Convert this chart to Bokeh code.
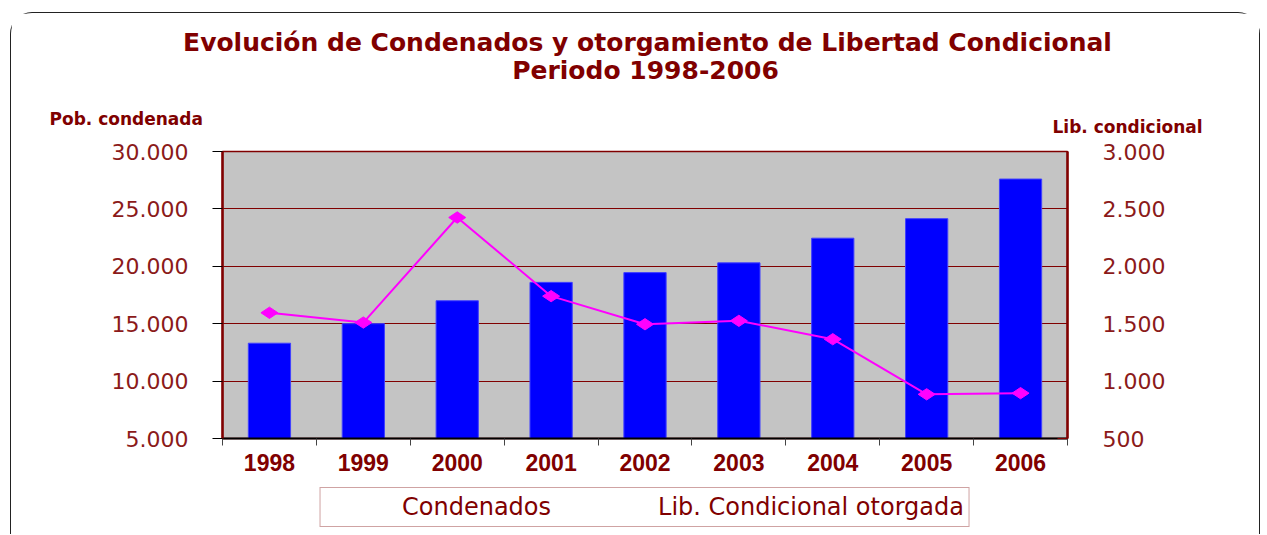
import math
from bokeh.plotting import figure
from bokeh.layouts import column
from bokeh.models import (ColumnDataSource, Range1d, LinearAxis, FixedTicker, Label,
                          Legend, LegendItem)
from bokeh.embed import file_html
from bokeh.resources import INLINE

years = ["1998", "1999", "2000", "2001", "2002", "2003", "2004", "2005", "2006"]
condenados = [13300, 15000, 17000, 18600, 19450, 20300, 22450, 24150, 27600]
lib_condicional = [1595, 1510, 2425, 1740, 1495, 1525, 1365, 885, 895]

left_ticks = [5000, 10000, 15000, 20000, 25000, 30000]
left_tick_labels = ["5.000", "10.000", "15.000", "20.000", "25.000", "30.000"]
right_ticks = [500, 1000, 1500, 2000, 2500, 3000]
right_tick_labels = ["500", "1.000", "1.500", "2.000", "2.500", "3.000"]

title_1 = "Evolución de Condenados y otorgamiento de Libertad Condicional"
title_2 = "Periodo 1998-2006"
left_title = "Pob. condenada"
right_title = "Lib. condicional"
series_names = ["Condenados", "Lib. Condicional otorgada"]

DARK = "#800000"
TICK = "#8b1a1a"
FONT = "DejaVu Sans"
BAR_FILL = "#0000ff"
BAR_LINE = "#4040ff"
MAG = "#ff00ff"

n = len(years)
xpos = [i + 0.5 for i in range(n)]
src = ColumnDataSource(dict(x=xpos, year=years, cond=condenados, lib=lib_condicional))

p = figure(frame_width=845, frame_height=287, x_range=Range1d(0, n),
           y_range=Range1d(5000, 30000),
           output_backend="svg", toolbar_location=None, x_axis_location=None,
           min_border_left=211, min_border_right=192, min_border_top=138,
           min_border_bottom=42)
p.extra_y_ranges = {"lib": Range1d(500, 3000)}

p.background_fill_color = "#c4c4c4"
p.border_fill_color = "white"
p.outline_line_color = DARK
p.outline_line_width = 1.5
p.xgrid.visible = False

p.ygrid.grid_line_color = DARK
p.ygrid.grid_line_width = 1
p.ygrid.ticker = FixedTicker(ticks=left_ticks)

# left axis
ya = p.yaxis[0]
ya.ticker = FixedTicker(ticks=left_ticks)
ya.major_label_overrides = {t: l for t, l in zip(left_ticks, left_tick_labels)}
ya.axis_line_color = DARK
ya.axis_line_width = 2.5
ya.major_tick_line_color = "black"
ya.major_tick_out = 10
ya.major_tick_in = 0
ya.minor_tick_line_color = None
ya.major_label_standoff = 24
ya.major_label_text_font = FONT
ya.major_label_text_font_size = "22px"
ya.major_label_text_color = TICK

# right axis
ra = LinearAxis(y_range_name="lib", ticker=FixedTicker(ticks=right_ticks))
ra.major_label_overrides = {t: l for t, l in zip(right_ticks, right_tick_labels)}
ra.axis_line_color = DARK
ra.axis_line_width = 2.5
ra.major_tick_line_color = DARK
ra.major_tick_out = 0
ra.major_tick_in = 10
ra.minor_tick_line_color = None
ra.major_label_standoff = 35
ra.major_label_text_font = FONT
ra.major_label_text_font_size = "22px"
ra.major_label_text_color = TICK
p.add_layout(ra, "right")

# bottom axis: labels at category centres, ticks between categories
xa = LinearAxis(ticker=FixedTicker(ticks=xpos, minor_ticks=list(range(n + 1))))
xa.major_label_overrides = {x: y for x, y in zip(xpos, years)}
xa.axis_line_color = "black"
xa.axis_line_width = 2
xa.major_tick_line_color = None
xa.major_tick_out = 7
xa.major_tick_in = 0
xa.minor_tick_line_color = "#444444"
xa.minor_tick_out = 7
xa.minor_tick_in = 0
xa.major_label_standoff = 8
xa.major_label_text_font = "Liberation Sans"
xa.major_label_text_font_style = "bold"
xa.major_label_text_font_size = "23px"
xa.major_label_text_color = DARK
p.add_layout(xa, "below")

p.vbar(x="x", top="cond", width=0.45, source=src, fill_color=BAR_FILL,
       line_color=BAR_LINE, line_width=1)
p.line(x="x", y="lib", source=src, y_range_name="lib", line_color=MAG, line_width=2)
p.scatter(x="x", y="lib", source=src, y_range_name="lib", marker="diamond",
          size=17, angle=math.pi / 2, fill_color=MAG, line_color=MAG)

# header texts, stacked in the panel above the frame
for txt, x, y, size, align in [(right_title, 830, 25, "17px", "left"),
                               (left_title, -173, 13, "17px", "left"),
                               (title_2, 423, 41, "25px", "center"),
                               (title_1, 425, 40, "25px", "center")]:
    p.add_layout(Label(x=x, y=y, x_units="screen", y_units="screen", text=txt,
                       text_align=align, text_baseline="middle", text_font=FONT,
                       text_font_style="bold", text_font_size=size,
                       text_color=DARK), "above")

# ---------------- legend strip ----------------
lf = figure(width=1248, height=54, x_range=Range1d(0, 1), y_range=Range1d(0, 1),
            output_backend="svg", toolbar_location=None, x_axis_location=None,
            y_axis_location=None, min_border=0)
lf.grid.visible = False
lf.outline_line_color = None
lf.background_fill_color = "white"
lf.border_fill_color = "white"
lb = lf.vbar(x=[], top=[], width=0.5, fill_color=BAR_FILL, line_color=BAR_LINE)
ll = lf.line(x=[], y=[], line_color=MAG, line_width=2)
ls = lf.scatter(x=[], y=[], marker="diamond", size=17, angle=math.pi / 2,
                fill_color=MAG, line_color=MAG)

legend = Legend(items=[LegendItem(label=series_names[0], renderers=[lb]),
                       LegendItem(label=series_names[1], renderers=[ll, ls])],
                location="center", orientation="horizontal")
legend.border_line_color = "#a04848"
legend.border_line_width = 1.5
legend.background_fill_color = "white"
legend.background_fill_alpha = 1
legend.label_text_font = FONT
legend.label_text_font_size = "24px"
legend.label_text_color = DARK
legend.glyph_width = 67
legend.glyph_height = 16
legend.label_standoff = 10
legend.spacing = 30
legend.padding = 5
legend.margin = 0
lf.add_layout(legend)

layout = column(p, lf, spacing=0)
layout.styles = {"border-top": "1.5px solid #222", "border-left": "1.5px solid #222",
                 "border-right": "1.5px solid #222", "border-radius": "22px 22px 0 0",
                 "margin-top": "12px", "margin-left": "10px"}

open("out.html", "w").write(file_html(layout, INLINE))
